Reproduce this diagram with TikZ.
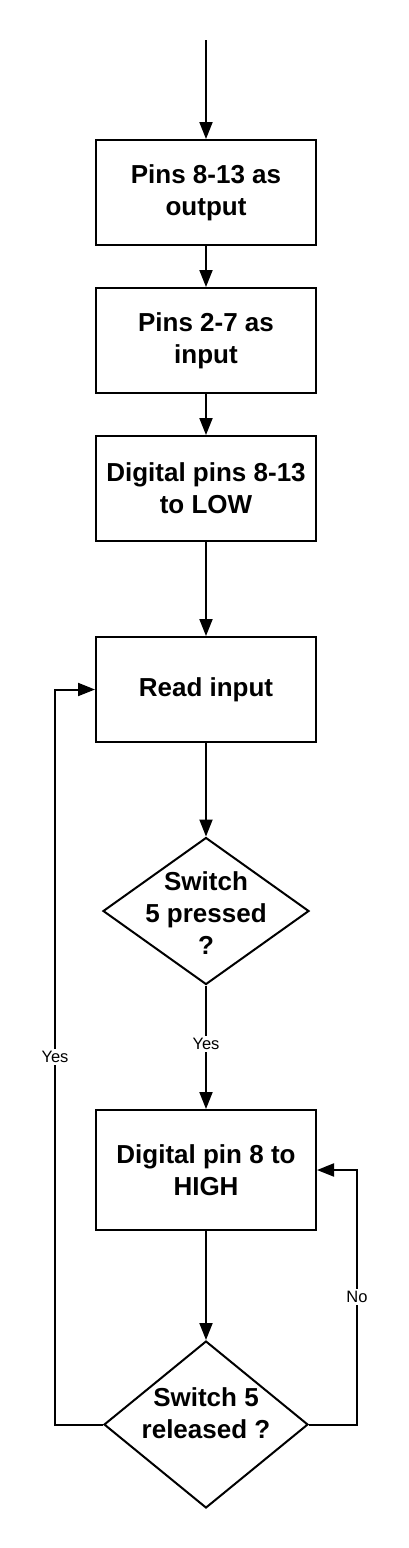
\documentclass[tikz,border=0pt]{standalone}
\usepackage{fontspec}
\setmainfont{Liberation Sans}
\usetikzlibrary{arrows.meta,shapes.geometric}
\begin{document}
\begin{tikzpicture}[x=1pt,y=-1pt,
  box/.style={draw,line width=2pt,minimum width=220pt,minimum height=105pt,inner sep=0pt,align=center,font=\fontsize{26}{32}\selectfont\bfseries},
  dec/.style={draw,diamond,line width=2pt,inner sep=0pt},
  dtext/.style={align=center,font=\fontsize{26}{32}\selectfont\bfseries,inner sep=0pt},
  arr/.style={line width=2pt,-{Triangle[length=17pt,width=13pt]}},
  lab/.style={fill=white,font=\fontsize{16.5}{19}\selectfont,inner sep=2pt}]
\useasboundingbox (0,0) rectangle (408,1548);
\coordinate (start) at (206,40);
\node[box] (b1) at (206,192.5) {Pins 8-13 as\\output};
\node[box] (b2) at (206,340.5) {Pins 2-7 as\\input};
\node[box] (b3) at (206,488.5) {Digital pins 8-13\\to LOW};
\node[box] (b4) at (206,689.5) {Read input};
\node[dec,minimum width=206pt,minimum height=147pt] (d1) at (206,911) {};
\node[dtext] (t1) at (206,913) {Switch\\5 pressed\\?};
\node[box,minimum height=120pt] (b5) at (206,1170) {Digital pin 8 to\\HIGH};
\node[dec,minimum width=204pt,minimum height=167pt] (d2) at (206,1424.5) {};
\node[dtext] (t2) at (206,1413) {Switch 5\\released ?};
\draw[arr] (start) -- (b1);
\draw[arr] (b1) -- (b2);
\draw[arr] (b2) -- (b3);
\draw[arr] (b3) -- (b4);
\draw[arr] (b4) -- (d1);
\draw[arr] (d1) -- (b5);
\draw[arr] (b5) -- (d2);
\draw[arr] (d2.west) -- ++(-48,0) |- (b4.west);
\draw[arr] (d2.east) -- ++(48,0) |- (b5.east);
\node[lab] (yes1) at (206,1044) {Yes};
\node[lab] (yes2) at (55,1057) {Yes};
\node[lab] (no) at (357,1297) {No};
\end{tikzpicture}
\end{document}
